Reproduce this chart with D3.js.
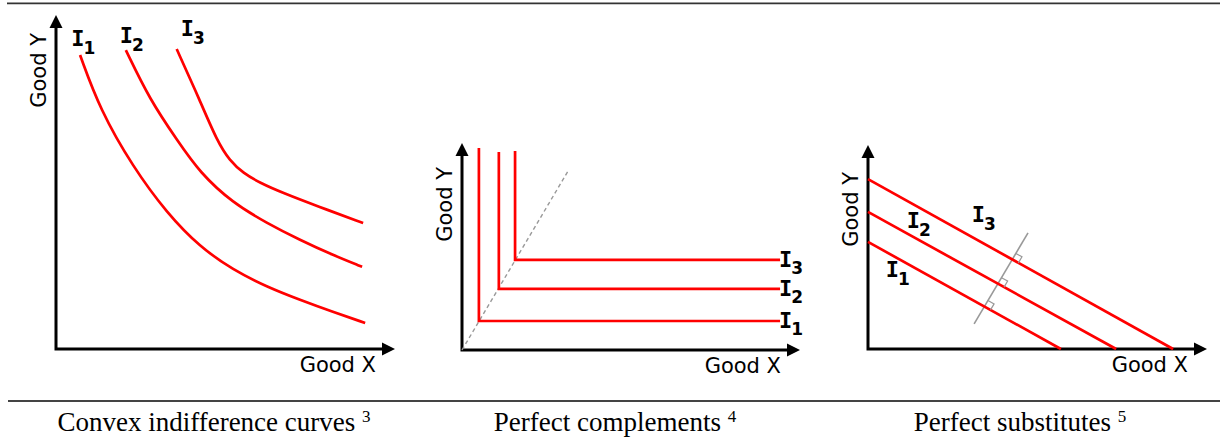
<!DOCTYPE html>
<html><head><meta charset="utf-8">
<script src="https://cdn.jsdelivr.net/npm/d3@7"></script>
<style>body{margin:0;background:#fff}</style>
</head><body><svg id="c" width="1220" height="445"></svg>
<script>
// ---------- data ----------
const categories = ["Convex indifference curves", "Perfect complements", "Perfect substitutes"];
const footnotes = ["3", "4", "5"];
const curveNames = ["1", "2", "3"];
const axisTitles = ["Good X", "Good Y"];

// convex indifference curves (x, y in 0..10 units)
const convexI1 = [[0.71,8.80],[1.30,7.16],[2.27,5.45],[3.27,4.07],[4.25,3.05],[5.22,2.37],[6.22,1.86],[7.20,1.47],[8.17,1.11],[9.12,0.78]];
const convexI2 = [[2.06,8.95],[2.77,7.46],[3.57,6.26],[4.25,5.27],[5.22,4.37],[6.22,3.77],[7.20,3.26],[8.17,2.81],[9.03,2.46]];
const convexI3 = [[3.56,8.98],[4.25,7.43],[4.75,6.23],[5.13,5.63],[5.52,5.27],[6.02,4.97],[6.70,4.67],[7.70,4.28],[9.06,3.77]];

// perfect complements: kink points, top of vertical arm, right end of horizontal arm
const complementKinks = [[0.50,1.40],[1.09,2.95],[1.57,4.35]];
const complementTops = [9.76, 9.57, 9.61];
const complementRight = 9.41;
const expansionPath = [[0,0],[3.14,8.65]];

// perfect substitutes: intercepts
const substituteYIntercepts = [5.25, 6.72, 8.33];
const substituteXIntercepts = [5.69, 7.32, 9.00];
const perpendicularLine = [[3.13,1.23],[4.72,5.69]];

// ---------- layout ----------
const svg = d3.select("#c");
const RED = "#ff0000";
const panels = [
  {x0:56, x1:395, y0:349, y1:15, yTitleTop:33},
  {x0:462, x1:800, y0:350, y1:143, yTitleTop:167},
  {x0:868, x1:1207, y0:349, y1:145, yTitleTop:172}
];
panels.forEach(p => {
  p.x = d3.scaleLinear().domain([0,10]).range([p.x0, p.x1]);
  p.y = d3.scaleLinear().domain([0,10]).range([p.y0, p.y1]);
});

// rules
svg.append("line").attr("x1",7).attr("x2",1220).attr("y1",3.3).attr("y2",3.3)
  .attr("stroke","#333").attr("stroke-width",1.8);
svg.append("line").attr("x1",8).attr("x2",1220).attr("y1",401).attr("y2",401)
  .attr("stroke","#444").attr("stroke-width",1.8);

// axes with arrowheads
function drawAxes(p){
  const g = svg.append("g");
  const ox = p.x(0), oy = p.y(0), tx = p.x(10), ty = p.y(10);
  const L = 13, Wd = 6.5;
  g.append("path").attr("d", `M${ox},${ty+L-1}L${ox},${oy}L${tx-L+1},${oy}`)
    .attr("fill","none").attr("stroke","#000").attr("stroke-width",3).attr("stroke-linejoin","miter");
  g.append("path").attr("d", `M${ox},${ty}L${ox-Wd},${ty+L}L${ox+Wd},${ty+L}Z`).attr("fill","#000");
  g.append("path").attr("d", `M${tx},${oy}L${tx-L},${oy-Wd}L${tx-L},${oy+Wd}Z`).attr("fill","#000");
  g.append("text").attr("x", tx-19).attr("y", oy+23).attr("text-anchor","end")
    .attr("font-family","DejaVu Sans").attr("font-size",21).attr("fill","#000").text(axisTitles[0]);
  g.append("text").attr("transform",`translate(${ox-10},${p.yTitleTop}) rotate(-90)`)
    .attr("text-anchor","end")
    .attr("font-family","DejaVu Sans").attr("font-size",21).attr("fill","#000").text(axisTitles[1]);
}
panels.forEach(drawAxes);

function label(x, y, sub, subDy){
  const t = svg.append("text").attr("x",x).attr("y",y)
    .attr("font-weight","bold").attr("fill","#000");
  t.append("tspan").attr("font-family","DejaVu Sans Mono").attr("font-size",22).text("I");
  t.append("tspan").attr("dx",-1).attr("dy",subDy).attr("font-family","DejaVu Sans").attr("font-size",17).text(sub);
}

// ---------- panel 1: convex ----------
{
  const p = panels[0];
  const line = d3.line().x(d=>p.x(d[0])).y(d=>p.y(d[1])).curve(d3.curveBasis);
  [convexI1, convexI2, convexI3].forEach(c => {
    svg.append("path").attr("d", line(c)).attr("fill","none").attr("stroke",RED).attr("stroke-width",2.7);
  });
  const labelPos = [[0.45,9.07],[1.88,9.16],[3.68,9.37]];
  labelPos.forEach((lp,i) => label(p.x(lp[0]), p.y(lp[1]), curveNames[i], 8));
}

// ---------- panel 2: complements ----------
{
  const p = panels[1];
  svg.append("line").attr("x1",p.x(expansionPath[0][0])).attr("y1",p.y(expansionPath[0][1]))
    .attr("x2",p.x(expansionPath[1][0])).attr("y2",p.y(expansionPath[1][1]))
    .attr("stroke","#999").attr("stroke-width",1.4).attr("stroke-dasharray","4,3");
  complementKinks.forEach((k,i) => {
    const pts = [[k[0], complementTops[i]], k, [complementRight, k[1]]];
    svg.append("path").attr("d", d3.line().x(d=>p.x(d[0])).y(d=>p.y(d[1]))(pts))
      .attr("fill","none").attr("stroke",RED).attr("stroke-width",2.7).attr("stroke-linejoin","miter");
    label(p.x(complementRight)-1, p.y(k[1])+7, curveNames[i], 7);
  });
}

// ---------- panel 3: substitutes ----------
{
  const p = panels[2];
  const segs = substituteYIntercepts.map((yi,i) => [[0, yi],[substituteXIntercepts[i], 0]]);
  const gp = perpendicularLine.map(d => [p.x(d[0]), p.y(d[1])]);
  svg.append("line").attr("x1",gp[0][0]).attr("y1",gp[0][1]).attr("x2",gp[1][0]).attr("y2",gp[1][1])
    .attr("stroke","#999").attr("stroke-width",1.6);
  segs.forEach((s,i) => {
    const a = [p.x(s[0][0]), p.y(s[0][1])], b = [p.x(s[1][0]), p.y(s[1][1])];
    svg.append("line").attr("x1",a[0]).attr("y1",a[1]).attr("x2",b[0]).attr("y2",b[1])
      .attr("stroke",RED).attr("stroke-width",2.7);
    const d1 = [b[0]-a[0], b[1]-a[1]], d2 = [gp[1][0]-gp[0][0], gp[1][1]-gp[0][1]];
    const den = d1[0]*d2[1]-d1[1]*d2[0];
    const t = ((gp[0][0]-a[0])*d2[1]-(gp[0][1]-a[1])*d2[0])/den;
    const P = [a[0]+t*d1[0], a[1]+t*d1[1]];
    const n1 = Math.hypot(...d1), n2 = Math.hypot(...d2);
    const u = [d1[0]/n1, d1[1]/n1], v = [d2[0]/n2, d2[1]/n2];
    const sz = 7;
    const q1 = [P[0]+sz*u[0], P[1]+sz*u[1]];
    const q2 = [q1[0]+sz*v[0], q1[1]+sz*v[1]];
    const q3 = [P[0]+sz*v[0], P[1]+sz*v[1]];
    svg.append("path").attr("d",`M${q1}L${q2}L${q3}`).attr("fill","none")
      .attr("stroke","#999").attr("stroke-width",1.2);
  });
  const labelPos = [[0.52,3.53],[1.14,5.93],[3.06,6.23]];
  labelPos.forEach((lp,i) => label(p.x(lp[0]), p.y(lp[1]), curveNames[i], 8));
}

// ---------- captions ----------
const captionX = [214, 615, 1020];
categories.forEach((c,i) => {
  const t = svg.append("text").attr("x",captionX[i]).attr("y",431).attr("text-anchor","middle")
    .attr("font-family","Liberation Serif").attr("font-size",27).attr("fill","#000");
  t.append("tspan").text(c + " ");
  t.append("tspan").attr("dy",-9).attr("font-size",17).text(footnotes[i]);
});
</script></body></html>
